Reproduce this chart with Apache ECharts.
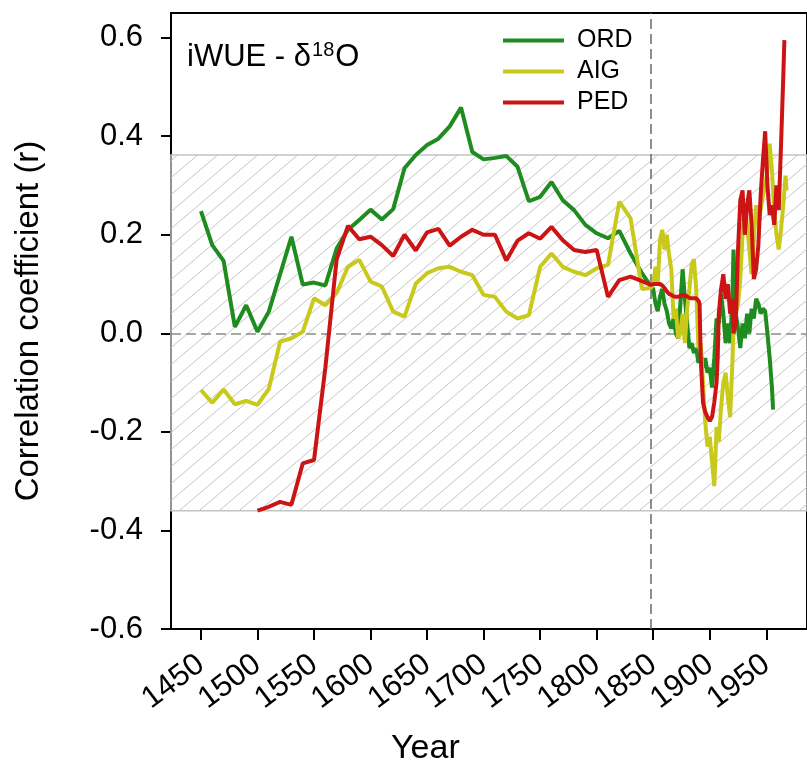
<!DOCTYPE html>
<html>
<head>
<meta charset="utf-8">
<script src="https://cdn.jsdelivr.net/npm/echarts@6/dist/echarts.min.js"></script>
<style>
html,body{margin:0;padding:0;background:#ffffff;}
#chart{width:807px;height:767px;}
</style>
</head>
<body>
<div id="chart"></div>
<script>
// ---------- DATA ----------
const earlyYears = [1450,1460,1470,1480,1490,1500,1510,1520,1530,1540,1550,1560,1570,1580,1590,1600,1610,1620,1630,1640,1650,1660,1670,1680,1690,1700,1710,1720,1730,1740,1750,1760,1770,1780,1790,1800,1810,1820,1830,1840];
const ordEarly = [0.248,0.179,0.147,0.013,0.057,0.003,0.044,0.12,0.196,0.099,0.103,0.097,0.172,0.21,0.23,0.251,0.231,0.252,0.335,0.362,0.382,0.395,0.42,0.458,0.368,0.353,0.356,0.36,0.338,0.268,0.277,0.307,0.27,0.25,0.22,0.203,0.193,0.208,0.162,0.122];
const aigEarly = [-0.115,-0.141,-0.114,-0.144,-0.137,-0.145,-0.113,-0.017,-0.01,0.003,0.071,0.057,0.082,0.135,0.149,0.105,0.095,0.044,0.034,0.101,0.122,0.132,0.135,0.125,0.118,0.078,0.074,0.044,0.03,0.037,0.135,0.162,0.135,0.125,0.118,0.132,0.139,0.267,0.233,0.09];
const pedEarly = [null,null,null,null,null,-0.36,-0.352,-0.342,-0.348,-0.264,-0.257,-0.07,0.15,0.218,0.191,0.196,0.179,0.157,0.2,0.168,0.205,0.212,0.178,0.196,0.21,0.2,0.2,0.148,0.188,0.203,0.192,0.216,0.189,0.169,0.165,0.169,0.074,0.108,0.115,0.106];

const ordLateYears = [1848,1850,1852,1854,1856,1858,1860,1862,1864,1866,1868,1870,1872,1874,1876,1878,1880,1882,1884,1886,1888,1890,1892,1894,1896,1898,1900,1902,1904,1906,1908,1910,1912,1914,1916,1918,1920,1921,1923,1925,1927,1929,1931,1933,1935,1937,1939,1941,1943,1945,1947,1949,1951,1953,1955,1956];
const ordLate = [0.095,0.09,0.06,0.045,0.075,0.09,0.06,0.045,0.02,0.01,0.03,0.0,-0.01,0.06,0.13,0.07,0.02,-0.03,-0.02,-0.04,-0.03,-0.06,-0.04,-0.07,-0.05,-0.08,-0.07,-0.11,-0.05,0.03,0.02,0.08,0.04,-0.02,0.02,-0.02,0.07,0.17,0.04,0.01,-0.03,0.02,-0.01,0.04,0.0,0.05,0.03,0.07,0.06,0.04,0.05,0.045,0.0,-0.05,-0.11,-0.155];

const aigLateYears = [1848,1850,1852,1854,1856,1858,1860,1862,1864,1866,1868,1870,1872,1874,1876,1878,1880,1882,1884,1886,1888,1890,1892,1894,1896,1898,1900,1902,1904,1906,1908,1910,1912,1914,1916,1918,1920,1921,1923,1925,1927,1929,1931,1933,1935,1937,1939,1941,1943,1945,1947,1949,1951,1953,1955,1957,1959,1961,1963,1965,1967,1968];
const aigLate = [0.092,0.10,0.135,0.10,0.19,0.21,0.17,0.20,0.16,0.13,0.03,0.05,-0.01,0.0,0.04,-0.02,0.05,0.09,0.14,0.15,0.09,-0.03,-0.02,-0.10,-0.18,-0.23,-0.21,-0.26,-0.31,-0.19,-0.22,-0.15,-0.10,-0.08,-0.13,-0.17,-0.06,0.01,0.04,0.06,0.11,0.20,0.26,0.22,0.17,0.12,0.19,0.26,0.22,0.25,0.28,0.30,0.33,0.385,0.33,0.25,0.20,0.17,0.21,0.26,0.32,0.29];

const pedLateYears = [1848,1850,1852,1854,1856,1858,1860,1862,1864,1866,1868,1870,1872,1874,1876,1878,1880,1882,1884,1886,1888,1890,1891,1892,1894,1896,1898,1900,1902,1904,1906,1907,1908,1910,1912,1914,1916,1918,1920,1921,1923,1925,1927,1929,1931,1933,1935,1937,1939,1941,1943,1945,1947,1949,1951,1953,1955,1957,1959,1961,1963,1965,1966];
const pedLate = [0.098,0.10,0.10,0.10,0.10,0.097,0.092,0.085,0.08,0.078,0.075,0.074,0.074,0.076,0.078,0.077,0.075,0.072,0.071,0.071,0.071,0.066,0.06,-0.05,-0.14,-0.16,-0.17,-0.178,-0.17,-0.14,-0.10,-0.05,0.04,0.09,0.12,0.07,0.10,0.04,0.07,0.0,0.02,0.17,0.27,0.29,0.20,0.26,0.29,0.22,0.11,0.13,0.18,0.28,0.35,0.41,0.30,0.24,0.26,0.22,0.30,0.25,0.38,0.52,0.595];

const seriesNames = ['ORD','AIG','PED'];
const xTicks = [1450,1500,1550,1600,1650,1700,1750,1800,1850,1900,1950];
const yTicks = [-0.6,-0.4,-0.2,0.0,0.2,0.4,0.6];
const bandLow = -0.36;
const bandHigh = 0.362;
const dividerYear = 1848;
const zeroLine = 0;

// ---------- BUILD ----------
function pairs(years, vals){
  const out = [];
  for (let i=0;i<years.length;i++){ if (vals[i]!==null && vals[i]!==undefined) out.push([years[i], vals[i]]); }
  return out;
}
const ordData = pairs(earlyYears, ordEarly).concat(pairs(ordLateYears, ordLate));
const aigData = pairs(earlyYears, aigEarly).concat(pairs(aigLateYears, aigLate));
const pedData = pairs(earlyYears, pedEarly).concat(pairs(pedLateYears, pedLate));

function hatchPattern(){
  const w = 20, h = 17;
  const c = document.createElement('canvas');
  c.width = w; c.height = h;
  const g = c.getContext('2d');
  g.strokeStyle = '#c4c4c4';
  g.lineWidth = 1;
  for (const o of [-w, 0, w]){
    g.beginPath(); g.moveTo(o, h); g.lineTo(o + w, 0); g.stroke();
  }
  return c;
}

const FONT = '"Liberation Sans", Arial, sans-serif';
const colors = {ORD:'#1f8c1f', AIG:'#c9c91c', PED:'#cc1414'};
const LW = 4;

const chart = echarts.init(document.getElementById('chart'), null, {renderer:'canvas'});
const option = {
  backgroundColor: '#ffffff',
  animation: false,
  textStyle: {fontFamily: FONT, color:'#000'},
  grid: {left: 171, right: 0, top: 13, bottom: 138, show: true, borderColor: '#000', borderWidth: 2, backgroundColor: 'transparent'},
  legend: {
    data: seriesNames,
    orient: 'vertical',
    left: 503, top: 28,
    padding: 0,
    itemGap: 6,
    itemWidth: 61, itemHeight: 4,
    icon: 'rect',
    textStyle: {fontFamily: FONT, fontSize: 25, color: '#000', padding: [0,0,0,8]}
  },
  xAxis: {
    type: 'value', min: 1423.5, max: 1986,
    axisLine: {show: true, onZero: false, lineStyle: {color:'#000', width: 2}},
    axisTick: {show: true, length: 11, lineStyle: {color:'#000', width: 2}, customValues: xTicks},
    axisLabel: {customValues: xTicks, rotate: 37, margin: 32, fontSize: 31, color: '#000', fontFamily: FONT, formatter: v => String(v)},
    splitLine: {show: false}
  },
  yAxis: {
    type: 'value', min: -0.6, max: 0.65,
    name: 'Correlation coefficient (r)',
    nameLocation: 'middle', nameGap: 126,
    nameTextStyle: {fontSize: 33, color:'#000', fontFamily: FONT},
    axisLine: {show: true, lineStyle: {color:'#000', width: 2}},
    axisTick: {show: true, length: 10, lineStyle: {color:'#000', width: 2}, customValues: yTicks},
    axisLabel: {customValues: yTicks, margin: 28, fontSize: 31, color:'#000', fontFamily: FONT, formatter: v => v.toFixed(1)},
    splitLine: {show: false}
  },
  graphic: [
    {type:'text', left: 187, top: 40, z: 10,
     style: {text: '{a|iWUE - δ}{s|18}{a|O}', fontFamily: FONT,
       rich: {a: {fontSize: 31, fontFamily: FONT, fill:'#000', verticalAlign:'bottom'},
              s: {fontSize: 20, fontFamily: FONT, fill:'#000', verticalAlign:'bottom', padding:[0,1,13,1]}}}},
    {type:'text', left: 391, top: 732, z: 10,
     style: {text: 'Year', fontSize: 34, fontFamily: FONT, fill:'#000'}}
  ],
  series: [
    {
      name: 'band', type: 'line', data: [], silent: true, z: 1,
      markArea: {
        silent: true,
        itemStyle: {color: {image: hatchPattern(), repeat: 'repeat'}, borderColor: '#c4c4c4', borderWidth: 1.5},
        data: [[{yAxis: bandLow}, {yAxis: bandHigh}]]
      },
      markLine: {
        silent: true, symbol: 'none', z: 2,
        label: {show: false},
        data: [
          {yAxis: zeroLine, lineStyle: {color:'#8a8a8a', type: [10,5], width: 1.5}},
          {xAxis: dividerYear, lineStyle: {color:'#6a6a6a', type: [10,5], width: 1.5}}
        ]
      }
    },
    {name: 'ORD', type: 'line', data: ordData, symbol: 'none', z: 3, color: colors.ORD, lineStyle: {width: LW, color: colors.ORD}},
    {name: 'AIG', type: 'line', data: aigData, symbol: 'none', z: 4, color: colors.AIG, lineStyle: {width: LW, color: colors.AIG}},
    {name: 'PED', type: 'line', data: pedData, symbol: 'none', z: 5, color: colors.PED, lineStyle: {width: LW, color: colors.PED}}
  ]
};
chart.setOption(option);
</script>
</body>
</html>
